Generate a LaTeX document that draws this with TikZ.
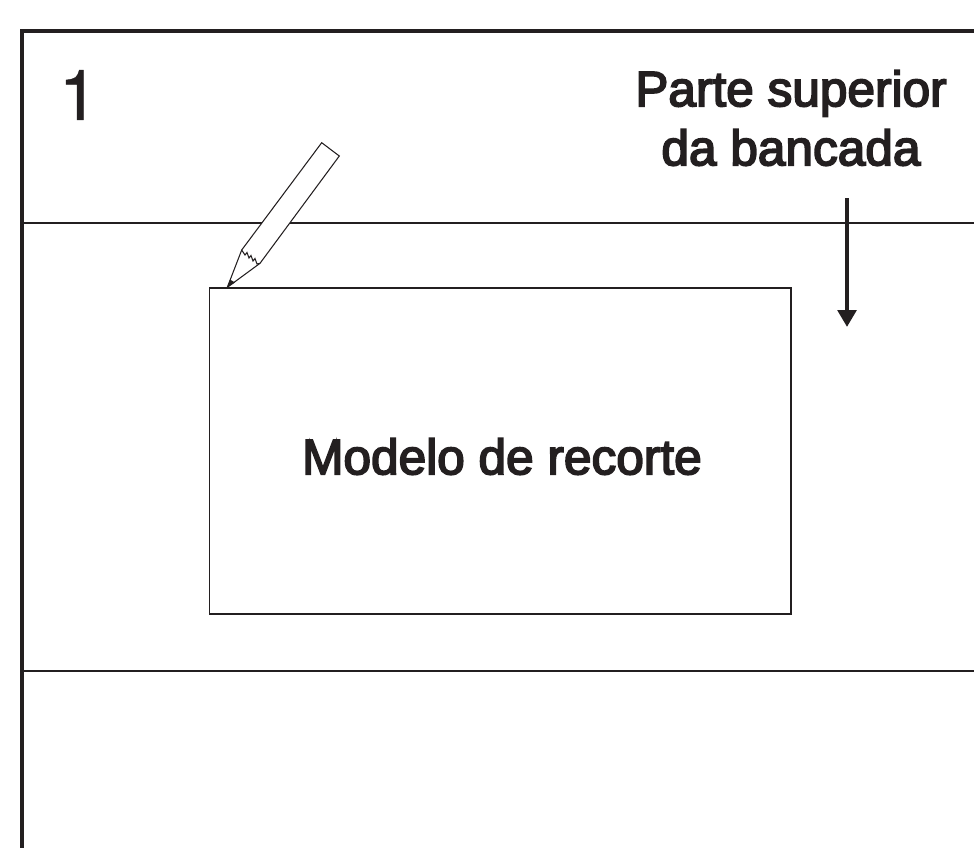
\documentclass[tikz,border=0pt]{standalone}
\usepackage{fontspec}
\setmainfont{Liberation Sans}[FakeBold=3.5]
\newfontfamily\digitfont{TeX Gyre Heros}[FakeBold=0.5]
\usetikzlibrary{arrows.meta}
\definecolor{inkblack}{HTML}{231F20}
\tikzset{
  bench/.style={ % image of a bench line
    draw=inkblack, line width=0.75pt
  },
  frame/.style={ % left and top edge of the bench
    draw=inkblack, line width=0.9pt
  },
  template/.style={ % image of the cut-out template
    draw=inkblack, rectangle, line width=0.32pt,
    minimum width=581.5*0.01cm, minimum height=326*0.01cm,
    inner sep=0pt
  },
  label/.style={
    inner sep=0pt, align=center, text=inkblack,
    font=\fontsize{14.1}{16.8}\selectfont
  },
  pencil/.style={
    draw=inkblack, fill=white, line width=0.3pt, line join=miter
  }
}
\begin{document}
\begin{tikzpicture}[x=0.01cm, y=-0.01cm]
    \useasboundingbox (0,0) rectangle (974,848);

    \coordinate (frame_nw) at (22,31);
    \coordinate (frame_ne) at (974,31);
    \coordinate (frame_sw) at (22,848);
    \draw[frame] (frame_ne) -- (frame_nw) -- (frame_sw);
    \draw[bench] (22,223) -- (974,223);
    \draw[bench] (22,671) -- (974,671);

    \node[template] (model) at (500.25,451) {};
    \node[label] (model_label) at (502,456.5) {Modelo de recorte};
    \node[inner sep=0pt, text=inkblack, font=\digitfont\fontsize{20}{24}\selectfont] (number) at (78.5,95) {1};
    \node[label] (top_label) at (791,118) {Parte superior\\da bancada};

    \coordinate (arrow_start) at (847,198);
    \coordinate (arrow_end) at (847,327);
    \draw[draw=inkblack, fill=inkblack, line width=1.25pt, -{Triangle[length=0.17cm,width=0.185cm]}] (arrow_start) -- (arrow_end);

    % pencil body, then its point
    \draw[pencil] (321.7,142.7) -- (339.3,156) -- (260,263.3) -- (227.3,287.3) -- (241.7,250) -- cycle;
    \fill[inkblack] (227.3,287.3) -- (230,279.5) -- (235,282.5) -- cycle;
    \draw[pencil, fill=none] (241.7,250) -- (245,255) -- (247,252.5) -- (249,258) -- (251,255.5) -- (253,261) -- (255,258.5) -- (257,264) -- (260,263.3);
\end{tikzpicture}
\end{document}
